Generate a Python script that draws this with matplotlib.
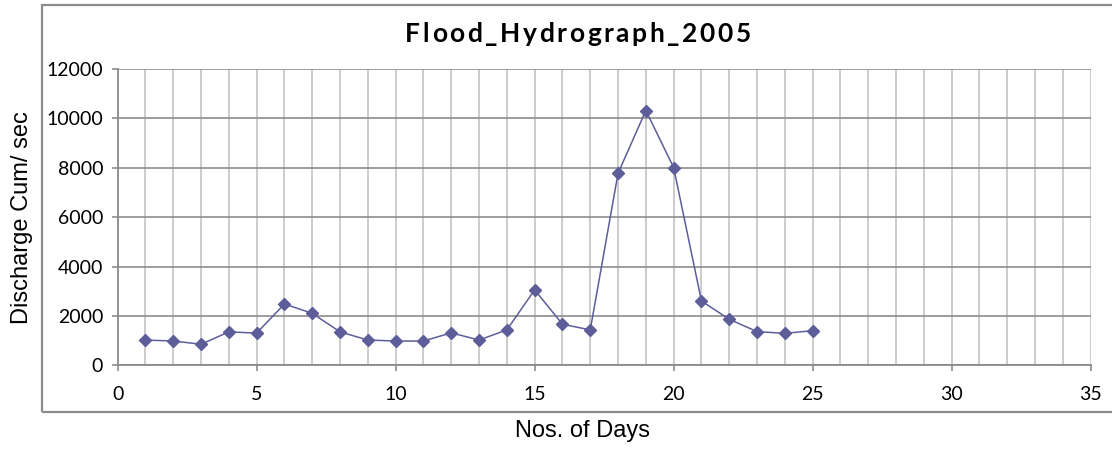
import matplotlib
matplotlib.use("Agg")
import matplotlib.pyplot as plt
from matplotlib.patches import Rectangle

# Daily discharge values
days = list(range(1, 26))
discharge = [1030, 990, 860, 1360, 1310, 2490, 2110, 1360, 1030, 990,
             990, 1320, 1030, 1440, 3060, 1670, 1440, 7780, 10320, 8010,
             2610, 1870, 1370, 1300, 1410]

x_ticks = [0, 5, 10, 15, 20, 25, 30, 35]
y_ticks = [0, 2000, 4000, 6000, 8000, 10000, 12000]
title = "Flood_Hydrograph_2005"

fig = plt.figure(figsize=(11.12, 4.49), dpi=100)
fig.patch.set_facecolor("white")

# outer chart frame (Excel style)
fig.patches.append(Rectangle((0.0378, 0.083), 1.0, 0.906, transform=fig.transFigure,
                             fill=False, edgecolor="#8c8c8c", linewidth=1.6))

ax = fig.add_axes([0.1058, 0.186, 0.875, 0.6603])

ax.plot(days, discharge, color="#5d5d9a", linewidth=1.1, marker="D",
        markersize=6.2, markerfacecolor="#5d5d9a", markeredgecolor="#5d5d9a", zorder=3)

ax.set_xlim(0, 35)
ax.set_ylim(0, 12000)
ax.set_xticks(x_ticks)
ax.set_yticks(y_ticks)
ax.set_xticks(range(0, 36), minor=True)

ax.grid(which="minor", axis="x", color="#c4c4c4", linewidth=1.2)
ax.grid(which="major", axis="x", color="#c4c4c4", linewidth=1.2)
ax.grid(which="major", axis="y", color="#8c8c8c", linewidth=1.2)
ax.set_axisbelow(True)

for side in ["top", "right"]:
    ax.spines[side].set_visible(False)
for side in ["left", "bottom"]:
    ax.spines[side].set_color("#8c8c8c")
    ax.spines[side].set_linewidth(1.3)

ax.tick_params(which="major", direction="out", length=4.5, width=1.2, color="#8c8c8c",
               labelsize=14, pad=6)
ax.tick_params(axis="x", pad=10)
ax.tick_params(which="minor", length=0)
for lbl in ax.get_xticklabels() + ax.get_yticklabels():
    lbl.set_family("Lato")

# title drawn letter by letter to mimic the wide Excel letter spacing
renderer = fig.canvas.get_renderer()
gap = 2.6  # extra pixels between letters
chars = []
widths = []
for ch in title:
    t = fig.text(0, 0.9247, ch, ha="left", va="baseline", fontsize=19,
                 fontweight="bold", family="Lato")
    w = t.get_window_extent(renderer).width
    chars.append(t)
    widths.append(w)
total = sum(widths) + gap * (len(title) - 1)
x = 578 - total / 2
for t, w in zip(chars, widths):
    t.set_x(x / 1112)
    t.set_y(1 - 42.5 / 449)
    x += w + gap

fig.text(0.524, 0.041, "Nos. of Days", ha="center", va="center",
         fontsize=17, family="Liberation Sans")
fig.text(0.02, 0.516, "Discharge Cum/ sec", ha="center", va="center", rotation=90,
         fontsize=17, family="Liberation Sans")

plt.savefig("out.png", dpi=100)
